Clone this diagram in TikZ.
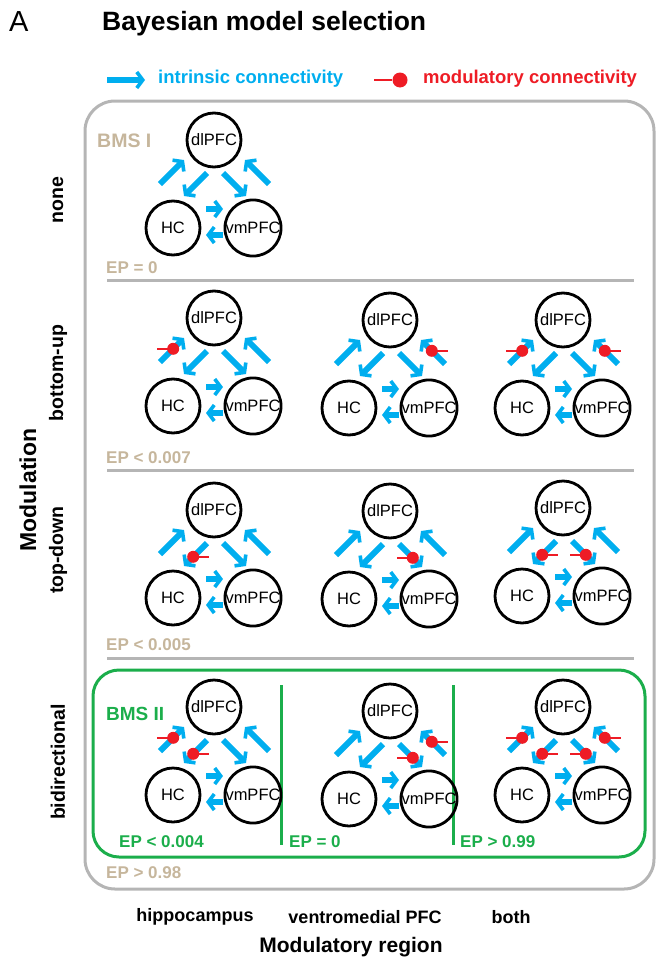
\documentclass[tikz,border=0pt]{standalone}
\usepackage{fontspec}
\setmainfont{Liberation Sans}
\usetikzlibrary{arrows.meta,calc}
\definecolor{intrblue}{HTML}{00AEEF}
\definecolor{modred}{HTML}{EE1C25}
\definecolor{bmsgreen}{HTML}{1BAE4B}
\definecolor{eptan}{HTML}{C6B69C}
\definecolor{boxgray}{HTML}{B5B5B5}

\tikzset{
  area/.style={circle, draw, line width=2.8pt, minimum size=54pt, inner sep=0pt,
    font=\fontsize{16.5}{17}\selectfont},
  intr/.style={intrblue, line width=6pt,
    -{Straight Barb[length=6pt, width=16pt, line width'=3.6pt]}},
  modline/.style={modred, line width=2.4pt},
  eplabel/.style={anchor=west, inner sep=0pt, font=\fontsize{17}{18}\selectfont\bfseries},
  rowlabel/.style={rotate=90, inner sep=0pt, font=\fontsize{19.5}{20}\selectfont\bfseries},
  collabel/.style={inner sep=0pt, font=\fontsize{18}{20}\selectfont\bfseries},
  frame/.style={line width=3pt},
}

\begin{document}
\begin{tikzpicture}[x=1pt, y=-1pt]
  \useasboundingbox (0,0) rectangle (656,961);

  % heading
  \node[anchor=west, inner sep=0pt, font=\fontsize{29}{30}\selectfont] (panel) at (9,22) {A};
  \node[anchor=west, inner sep=0pt, font=\fontsize{26.5}{28}\selectfont\bfseries] (title) at (102,24) {Bayesian model selection};

  % legend
  \coordinate (lgA) at (107,80);
  \coordinate (lgB) at (145,80);
  \draw[intr, line width=6.5pt] (lgA) -- (lgB);
  \node[anchor=west, inner sep=0pt, intrblue, font=\fontsize{18.5}{20}\selectfont\bfseries] (intrtext) at (158,79) {intrinsic connectivity};
  \coordinate (lgC) at (374,80);
  \node[circle, fill=modred, minimum size=15pt, inner sep=0pt] (lgdot) at (400,80) {};
  \draw[modline] (lgC) -- (lgdot);
  \node[anchor=west, inner sep=0pt, modred, font=\fontsize{18.5}{20}\selectfont\bfseries] (modtext) at (423,79) {modulatory connectivity};

  % frames
  \draw[frame, boxgray, rounded corners=30pt] (85,101) rectangle (654,889);
  \foreach \y in {280,470,658}
    \draw[frame, boxgray] (107,\y) -- (634,\y);
  \draw[frame, bmsgreen, rounded corners=26pt] (93,670) rectangle (645,857);
  \foreach \x in {281,453}
    \draw[frame, bmsgreen] (\x,685) -- (\x,845);

  % networks
  \foreach \n/\x/\y in {a/214/140, b/214/318, c/390/320, d/563/320,
                        e/214/510, f/390/511, g/563/508,
                        h/214/707, i/390/711, j/563/707}{
    \begin{scope}[shift={(\x,\y)}]
      \node[area] (\n-D) at (0,0) {dlPFC};
      \node[area] (\n-H) at (-41,88) {HC};
      \node[area] (\n-V) at (39,88) {vmPFC};
      \foreach \a/\sx/\sy/\ex/\ey in {hd/-54/44/-30/20, dh/-7/33/-30/56,
                                      dv/9/33/32/56, vd/55/44/31/20,
                                      hv/-8/69/9/69, vh/9/95/-8/95}{
        \coordinate (\n-\a-s) at (\sx,\sy);
        \coordinate (\n-\a-e) at (\ex,\ey);
        \draw[intr] (\n-\a-s) -- (\n-\a-e);
      }
    \end{scope}
  }

  % modulatory connections
  \foreach \n/\a/\t/\len in {b/hd/0.55/-16, c/vd/0.55/16, d/hd/0.55/-16, d/vd/0.55/16,
                             e/dh/0.6/16, f/dv/0.6/-16, g/dh/0.6/16, g/dv/0.6/-16,
                             h/hd/0.55/-16, h/dh/0.6/16, i/vd/0.55/16, i/dv/0.6/-16,
                             j/hd/0.55/-16, j/dh/0.6/16, j/vd/0.55/16, j/dv/0.6/-16}{
    \coordinate (\n-\a-m) at ($(\n-\a-s)!\t!(\n-\a-e)$);
    \draw[modline] (\n-\a-m) -- ++(\len,0);
    \fill[modred] (\n-\a-m) circle (6pt);
  }

  % model families and exceedance probabilities
  \node[anchor=west, inner sep=0pt, eptan, font=\fontsize{19.5}{20}\selectfont\bfseries] (bmsI) at (97,141) {BMS I};
  \node[anchor=west, inner sep=0pt, bmsgreen, font=\fontsize{19}{20}\selectfont\bfseries] (bmsII) at (106,714) {BMS II};
  \node[eplabel, eptan] (ep1) at (106,268) {EP = 0};
  \node[eplabel, eptan] (ep2) at (106,458) {EP < 0.007};
  \node[eplabel, eptan] (ep3) at (106,645) {EP < 0.005};
  \node[eplabel, eptan] (ep4) at (106,873) {EP > 0.98};
  \node[eplabel, bmsgreen] (ep4a) at (119,842) {EP < 0.004};
  \node[eplabel, bmsgreen] (ep4b) at (289,842) {EP = 0};
  \node[eplabel, bmsgreen] (ep4c) at (460,842) {EP > 0.99};

  % axis labels
  \node[rowlabel] (none) at (58,200) {none};
  \node[rowlabel] (bottomup) at (58,373) {bottom-up};
  \node[rowlabel] (topdown) at (58,550) {top-down};
  \node[rowlabel] (bidir) at (58,762) {bidirectional};
  \node[rotate=90, inner sep=0pt, font=\fontsize{23}{24}\selectfont\bfseries] (modulation) at (28,490) {Modulation};
  \node[collabel] (hipp) at (195,917) {hippocampus};
  \node[collabel] (vmpfc) at (365,917) {ventromedial PFC};
  \node[collabel] (both) at (511,917) {both};
  \node[inner sep=0pt, font=\fontsize{21}{22}\selectfont\bfseries] (modregion) at (351,947) {Modulatory region};
\end{tikzpicture}
\end{document}
